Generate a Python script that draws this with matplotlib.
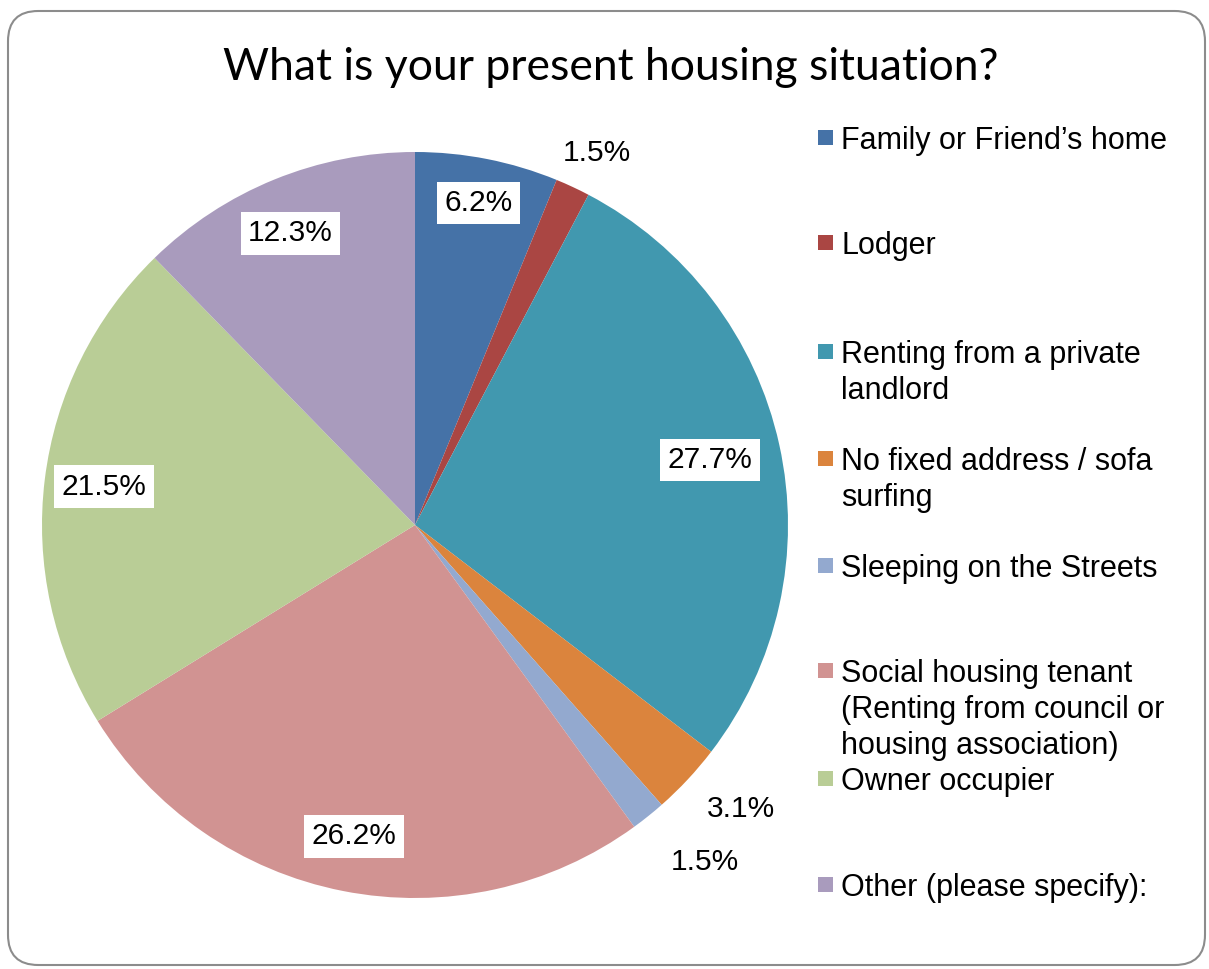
import numpy as np
import matplotlib.pyplot as plt
from matplotlib.patches import FancyBboxPatch, Rectangle

# data
categories = ["Family or Friend\u2019s home", "Lodger", "Renting from a private\nlandlord",
              "No fixed address / sofa\nsurfing", "Sleeping on the Streets",
              "Social housing tenant\n(Renting from council or\nhousing association)",
              "Owner occupier", "Other (please specify):"]
values = [6.2, 1.5, 27.7, 3.1, 1.5, 26.2, 21.5, 12.3]
colors = ["#4572A7", "#AA4643", "#4198AF", "#DB843D", "#93A9CF", "#D19392", "#B9CD96", "#A99BBD"]

# label radius (fraction of pie radius); inside ones get a white box
label_dist = [0.88, 1.11, 0.81, 1.16, 1.19, 0.85, 0.84, 0.85]
label_angle_shift = [0, 1, 0, -2, -2, 0, 0, -1]

W, H = 1209, 969
fig = plt.figure(figsize=(W / 100, H / 100), dpi=100)
fig.patch.set_facecolor("white")

# rounded chart border
border = FancyBboxPatch((8 / W, 4 / H), (1205 - 8) / W, (958 - 4) / H,
                        boxstyle="round,pad=0,rounding_size=0.025",
                        transform=fig.transFigure, facecolor="none",
                        edgecolor="#8c8c8c", linewidth=1.5, mutation_aspect=W / H,
                        zorder=-1)
fig.patches.append(border)

cx, cy, r = 415, 525, 373
ax = fig.add_axes([(cx - r) / W, (H - cy - r) / H, 2 * r / W, 2 * r / H])
ax.patch.set_visible(False)
wedges, _ = ax.pie(values, colors=colors, startangle=90, counterclock=False,
                   wedgeprops=dict(linewidth=0))
ax.set_xlim(-1, 1)
ax.set_ylim(-1, 1)
ax.set_aspect("equal")

font = "Liberation Sans"
cum = np.cumsum([0] + values)
for i, v in enumerate(values):
    mid = (cum[i] + v / 2) / 100 * 360 + label_angle_shift[i]
    th = np.deg2rad(mid)
    d = label_dist[i]
    x, y = d * np.sin(th), d * np.cos(th)
    txt = f"{v:.1f}%"
    if d < 1:
        ax.text(x, y, txt, ha="center", va="center", fontsize=21.5, family=font,
                bbox=dict(boxstyle="square,pad=0.25", fc="white", ec="none"))
    else:
        ax.text(x, y, txt, ha="center", va="center", fontsize=21.5, family=font)

# title
fig.text(611 / W, 1 - 67 / H, "What is your present housing situation?",
         ha="center", va="center", fontsize=32, family="Lato")

# legend
leg_y = [137, 242, 351, 458, 565, 670, 778, 884]
for name, col, ly in zip(categories, colors, leg_y):
    fig.patches.append(Rectangle((818 / W, 1 - (ly + 8) / H), 15 / W, 15 / H,
                                 transform=fig.transFigure, facecolor=col,
                                 edgecolor="none"))
    fig.text(841 / W, 1 - (ly - 11) / H, name, ha="left", va="top",
             fontsize=22, family=font, linespacing=1.26)

fig.savefig("out.png", dpi=100)
